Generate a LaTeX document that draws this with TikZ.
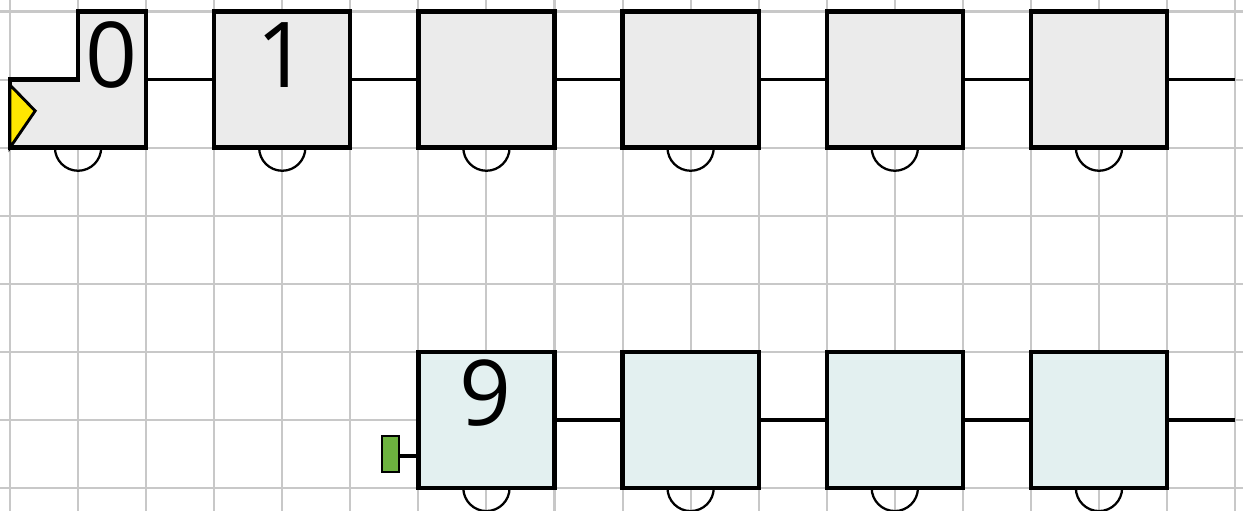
\documentclass[tikz,border=0pt]{standalone}
\usepackage{fontspec}
\setmainfont{Open Sans}
\usetikzlibrary{calc}
\definecolor{gridc}{HTML}{C8C8C8}
\definecolor{grayfill}{HTML}{EBEBEB}
\definecolor{cyanfill}{HTML}{E3F0F0}
\definecolor{portgreen}{HTML}{6DB33F}
\definecolor{flagyellow}{HTML}{FFE600}
\begin{document}
\begin{tikzpicture}[
  gridline/.style={draw=gridc, line width=0.85pt},
  blockbox/.style={draw=black, line width=1.8pt, minimum width=2cm, minimum height=2cm, inner sep=0pt, outer sep=0pt},
  topbox/.style={blockbox, fill=grayfill},
  botbox/.style={blockbox, fill=cyanfill},
  conn/.style={draw=black, line width=1.5pt},
  bump/.style={draw=black, line width=0.95pt},
  num/.style={font=\fontsize{38}{40}\selectfont, inner sep=0pt},
  port/.style={draw=black, line width=0.8pt, fill=portgreen, minimum width=0.245cm, minimum height=0.52cm, inner sep=0pt}
]
\useasboundingbox (-0.147,-7.335) rectangle (18.116,0.169);
% grid
\foreach \i in {0,...,18} { \draw[gridline] (\i,0.169) -- (\i,-7.335); }
\foreach \j in {0,...,7} { \draw[gridline] (-0.147,-\j) -- (18.116,-\j); }

% top row
\draw[line width=1.8pt, fill=grayfill] (0,-1) -- (1,-1) -- (1,0) -- (2,0) -- (2,-2) -- (0,-2) -- cycle;
\coordinate (b0e) at (2,-1);
\coordinate (b0s) at (1,-2);
\node[topbox] (b1) at (4,-1) {};
\node[topbox] (b2) at (7,-1) {};
\node[topbox] (b3) at (10,-1) {};
\node[topbox] (b4) at (13,-1) {};
\node[topbox] (b5) at (16,-1) {};
\coordinate (tend) at (18,-1);
\draw[conn] (b0e) -- (b1.west);
\draw[conn] (b1.east) -- (b2.west);
\draw[conn] (b2.east) -- (b3.west);
\draw[conn] (b3.east) -- (b4.west);
\draw[conn] (b4.east) -- (b5.west);
\draw[conn] (b5.east) -- (tend);
\draw[line width=1.2pt, fill=flagyellow, line join=miter] (0,-1.08) -- (0.37,-1.46) -- (0,-2) -- cycle;
\node[num] (l0) at (1.49,-0.64) {0};
\node[num] (l1) at (4.01,-0.64) {1};
\foreach \n in {b1,b2,b3,b4,b5} {
  \draw[bump] ([xshift=-0.34cm]\n.south) arc[start angle=180, end angle=360, radius=0.34];
}
\draw[bump] ([xshift=-0.34cm]b0s) arc[start angle=180, end angle=360, radius=0.34];

% bottom row
\node[botbox] (c1) at (7,-6) {};
\node[botbox] (c2) at (10,-6) {};
\node[botbox] (c3) at (13,-6) {};
\node[botbox] (c4) at (16,-6) {};
\coordinate (cend) at (18,-6);
\draw[conn] (c1.east) -- (c2.west);
\draw[conn] (c2.east) -- (c3.west);
\draw[conn] (c3.east) -- (c4.west);
\draw[conn] (c4.east) -- (cend);
\node[num] (l9) at (6.98,-5.6) {9};
\foreach \n in {c1,c2,c3,c4} {
  \draw[bump] ([xshift=-0.34cm]\n.south) arc[start angle=180, end angle=360, radius=0.34];
}
\node[port] (g) at (5.594,-6.5) {};
\draw[conn] ([yshift=-0.03cm]g.east) -- ([yshift=-0.03cm]g.east -| c1.west);
\end{tikzpicture}
\end{document}
